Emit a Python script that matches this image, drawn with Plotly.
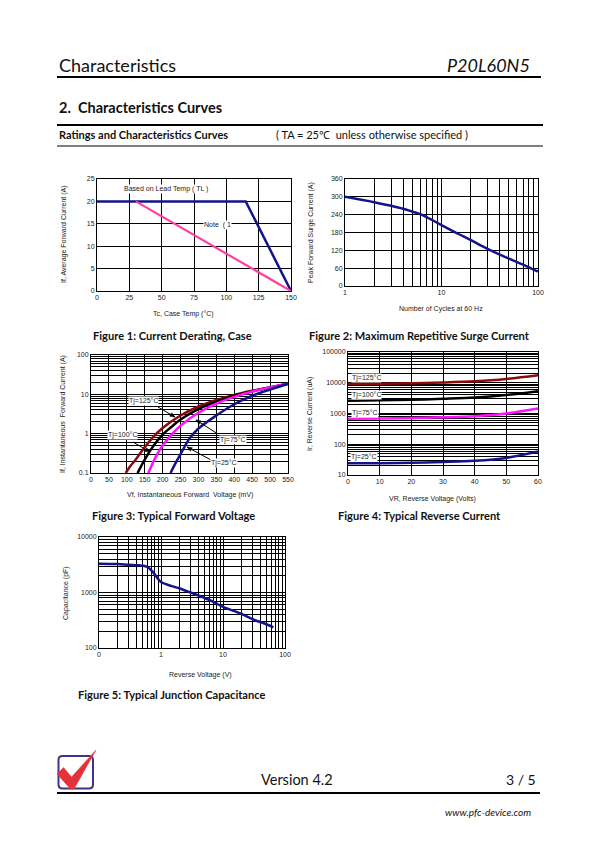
import math
import plotly.graph_objects as go

# The page is drawn with an 8 px body margin, so the figure is made 8 px smaller
# and every page coordinate is shifted by that margin.
PAGE_W, PAGE_H = 595, 842
OFF = 8
W, H = PAGE_W - OFF, PAGE_H - OFF

# ---------------- data ----------------
# Figure 1: current derating
f1_lead_temp = [0, 115, 150]
f1_lead_current = [20, 20, 0]
f1_note_temp = [30, 150]
f1_note_current = [20, 0]
f1_x_ticks = [0, 25, 50, 75, 100, 125, 150]
f1_y_ticks = [0, 5, 10, 15, 20, 25]

# Figure 2: surge current
f2_cycles = [1, 2, 3, 4, 5, 6, 7, 8, 10, 15, 20, 30, 50, 70, 100]
f2_surge = [300, 282, 270, 260, 250, 242, 232, 222, 205, 175, 155, 125, 92, 72, 48]
f2_y_ticks = [0, 60, 120, 180, 240, 300, 360]
f2_x_ticks = [1, 10, 100]
f2_x_labels = ["1", "10", "100"]

# Figure 3: forward voltage (mV) vs current (A)
f3_v_125 = [97, 110, 125, 150, 175, 200, 250, 300, 350, 400, 450, 500, 550]
f3_i_125 = [0.1, 0.15, 0.22, 0.45, 0.85, 1.4, 2.9, 4.9, 7.2, 9.7, 12.3, 15, 18.5]
f3_v_100 = [130, 140, 150, 175, 200, 225, 250, 300, 350, 400, 450, 500, 550]
f3_i_100 = [0.1, 0.15, 0.22, 0.5, 0.95, 1.5, 2.3, 4.2, 6.5, 9.2, 12, 15, 18.5]
f3_v_75 = [160, 170, 180, 200, 225, 250, 300, 350, 400, 450, 500, 550]
f3_i_75 = [0.1, 0.16, 0.25, 0.5, 0.95, 1.6, 3.4, 5.8, 8.6, 11.8, 15, 18.5]
f3_v_25 = [222, 235, 250, 275, 300, 350, 400, 450, 500, 550]
f3_i_25 = [0.1, 0.17, 0.3, 0.75, 1.35, 2.9, 5.6, 9.2, 13.3, 18.5]
f3_x_ticks = [0, 50, 100, 150, 200, 250, 300, 350, 400, 450, 500, 550]
f3_y_ticks = [0.1, 1, 10, 100]
f3_y_labels = ["0.1", "1", "10", "100"]

# Figure 4: reverse current (uA) vs reverse voltage
f4_vr = [0, 10, 20, 30, 40, 50, 60]
f4_ir_125 = [9200, 9300, 9600, 10200, 11200, 13300, 17500]
f4_ir_100 = [2600, 2700, 2800, 3000, 3300, 4000, 5300]
f4_ir_75 = [680, 690, 710, 750, 820, 1000, 1450]
f4_ir_25 = [24, 24, 25, 26.5, 29, 36, 58]
f4_x_ticks = [0, 10, 20, 30, 40, 50, 60]
f4_y_ticks = [10, 100, 1000, 10000, 100000]
f4_y_labels = ["10", "100", "1000", "10000", "100000"]

# Figure 5: junction capacitance
f5_vr = [0.1, 0.2, 0.3, 0.4, 0.5, 0.6, 0.7, 0.8, 0.9, 1, 1.5, 2, 3, 5, 7, 10, 20, 30, 50, 65]
f5_cap = [3300, 3250, 3150, 3100, 3050, 2900, 2500, 2100, 1750, 1550, 1300, 1180, 1000, 800,
          680, 550, 410, 330, 268, 235]
f5_x_ticks = [0.1, 1, 10, 100]
f5_x_labels = ["0", "1", "10", "100"]
f5_y_ticks = [100, 1000, 10000]
f5_y_labels = ["100", "1000", "10000"]


# ---------------- helpers ----------------
def px(x):
    return (x - OFF) / W


def py(y):
    return 1 - (y - OFF) / H


def minor_log(lo_exp, hi_exp):
    vals = []
    for e in range(lo_exp, hi_exp):
        for m in range(2, 10):
            vals.append(round(m * 10 ** e, 6))
    return vals


TICKFONT = dict(family="Liberation Sans, Arial", size=7, color="#222")


def axis(domain, anchor, minor_vals=None, **kw):
    d = dict(domain=domain, anchor=anchor, showgrid=True, gridcolor="black", gridwidth=1,
             showline=True, linecolor="black", linewidth=1, mirror=True, zeroline=False,
             ticks="", tickfont=TICKFONT, fixedrange=True, automargin=False)
    if minor_vals:
        d["minor"] = dict(tickmode="array", tickvals=minor_vals, showgrid=True,
                          gridcolor="black", gridwidth=1, ticks="")
    d.update(kw)
    return d


fig = go.Figure()

NAVY = "#14148a"
MAROON = "#8b0a0a"
MAGENTA = "#ff10ff"
PINK = "#ff3fa0"

# Figure 1
fig.add_trace(go.Scatter(x=f1_lead_temp, y=f1_lead_current, mode="lines",
                         line=dict(color=NAVY, width=2.5), xaxis="x", yaxis="y"))
fig.add_trace(go.Scatter(x=f1_note_temp, y=f1_note_current, mode="lines",
                         line=dict(color=PINK, width=2.2), xaxis="x", yaxis="y"))
# Figure 2
fig.add_trace(go.Scatter(x=f2_cycles, y=f2_surge, mode="lines", line_shape="spline",
                         line=dict(color=NAVY, width=2.5), xaxis="x2", yaxis="y2"))
# Figure 3
for xs, ys, c in [(f3_v_125, f3_i_125, MAROON), (f3_v_100, f3_i_100, "black"),
                  (f3_v_75, f3_i_75, MAGENTA), (f3_v_25, f3_i_25, NAVY)]:
    fig.add_trace(go.Scatter(x=xs, y=ys, mode="lines", line_shape="spline",
                             line=dict(color=c, width=2.5), xaxis="x3", yaxis="y3"))
# Figure 4
for ys, c in [(f4_ir_125, MAROON), (f4_ir_100, "black"), (f4_ir_75, MAGENTA), (f4_ir_25, NAVY)]:
    fig.add_trace(go.Scatter(x=f4_vr, y=ys, mode="lines", line_shape="spline",
                             line=dict(color=c, width=2.5), xaxis="x4", yaxis="y4"))
# Figure 5
fig.add_trace(go.Scatter(x=f5_vr, y=f5_cap, mode="lines", line_shape="spline",
                         line=dict(color=NAVY, width=2.5), xaxis="x5", yaxis="y5"))

layout_axes = dict(
    xaxis=axis([px(97), px(291)], "y", range=[0, 150], tickvals=f1_x_ticks),
    yaxis=axis([py(291), py(179)], "x", range=[0, 25], tickvals=f1_y_ticks),
    xaxis2=axis([px(345), px(538)], "y2", minor_log(0, 2), type="log", range=[0, 2],
                tickvals=f2_x_ticks, ticktext=f2_x_labels),
    yaxis2=axis([py(286), py(179)], "x2", range=[0, 360], tickvals=f2_y_ticks),
    xaxis3=axis([px(91), px(288)], "y3", range=[0, 550], tickvals=f3_x_ticks),
    yaxis3=axis([py(473), py(355)], "x3", minor_log(-1, 2), type="log", range=[-1, 2],
                tickvals=f3_y_ticks, ticktext=f3_y_labels),
    xaxis4=axis([px(348), px(538)], "y4", range=[0, 60], tickvals=f4_x_ticks),
    yaxis4=axis([py(475), py(352)], "x4", minor_log(1, 5), type="log", range=[1, 5],
                tickvals=f4_y_ticks, ticktext=f4_y_labels),
    xaxis5=axis([px(99), px(285)], "y5", minor_log(-1, 2), type="log", range=[-1, 2],
                tickvals=f5_x_ticks, ticktext=f5_x_labels),
    yaxis5=axis([py(648), py(537)], "x5", minor_log(2, 4), type="log", range=[2, 4],
                tickvals=f5_y_ticks, ticktext=f5_y_labels),
)

ann = []


def text(x, y, s, size=7, xanchor="center", family="Liberation Sans, Arial", color="#222",
         angle=0, bg=None, yanchor="middle"):
    a = dict(x=px(x), y=py(y), xref="paper", yref="paper", text=s, showarrow=False,
             xanchor=xanchor, yanchor=yanchor, textangle=angle,
             font=dict(family=family, size=size, color=color))
    if bg:
        a.update(bgcolor=bg, borderpad=0)
    ann.append(a)


PAGE = "Lato, Carlito, Calibri, sans-serif"
# Page header
text(57, 65, "Characteristics", size=18, xanchor="left", family=PAGE, color="#111")
text(532, 65, "<i>P20L60N5</i>", size=18, xanchor="right", family=PAGE, color="#111")
text(57, 107, "<b>2.  Characteristics Curves</b>", size=14.5, xanchor="left", family=PAGE, color="#111")
text(57, 135, "<b>Ratings and Characteristics Curves</b>", size=11, xanchor="left", family=PAGE, color="#111")
text(274, 135, "( TA = 25℃  unless otherwise specified )", size=11, xanchor="left", family=PAGE, color="#111")

# Captions
CAP = 11.1
text(172, 335, "<b>Figure 1: Current Derating, Case</b>", size=CAP, family=PAGE, color="#111")
text(419, 335, "<b>Figure 2: Maximum Repetitive Surge Current</b>", size=CAP, family=PAGE, color="#111")
text(173, 515, "<b>Figure 3: Typical Forward Voltage</b>", size=CAP, family=PAGE, color="#111")
text(419, 515, "<b>Figure 4: Typical Reverse Current</b>", size=CAP, family=PAGE, color="#111")
text(172, 694, "<b>Figure 5: Typical Junction Capacitance</b>", size=CAP, family=PAGE, color="#111")

# Footer
text(297, 779, "Version 4.2", size=14.5, family=PAGE, color="#111")
text(538, 779, "3 / 5", size=14, xanchor="right", family=PAGE, color="#111")
text(533, 812, "<i>www.pfc-device.com</i>", size=10, xanchor="right", family=PAGE, color="#111")

# Axis titles
text(183, 314, "Tc, Case Temp (°C)", size=7)
text(64, 234, "If, Average Forward Current (A)", size=7, angle=-90)
text(441, 309, "Number of Cycles at 60 Hz", size=7)
text(311, 233, "Peak Forward Surge Current (A)", size=7, angle=-90)
text(190, 495, "Vf, Instantaneous Forward  Voltage (mV)", size=7)
text(63, 414, "If, Instantaneous  Forward Current (A)", size=7, angle=-90)
text(432, 499, "VR, Reverse Voltage (Volts)", size=7)
text(310, 414, "Ir, Reverse Current (uA)", size=7, angle=-90)
text(200, 675, "Reverse Voltage (V)", size=7)
text(66, 593, "Capacitance (pF)", size=7, angle=-90)

# In-chart labels
text(166, 189, "Based on Lead Temp ( TL )", size=7, bg="white")
text(217, 225, "Note  ( 1", size=7, bg="white")
text(366, 378, "Tj=125°C", size=7, bg="white")
text(366, 395, "Tj=100°C", size=7, bg="white")
text(365, 413, "Tj=75°C", size=7, bg="white")
text(364, 457, "Tj=25°C", size=7, bg="white")

shapes = []

# Fig 3 labels with arrows (drawn as line + small triangle head)
for (lx, ly, tx, ty, hx, hy, s) in [
        (143, 401, 158, 407, 175, 417, "Tj=125°C"),
        (122, 435, 133, 442, 150, 452, "Tj=100°C"),
        (233, 440, 218, 434, 196, 420, "Tj=75°C"),
        (224, 463, 211, 460, 187, 447, "Tj=25°C")]:
    text(lx, ly, s, size=7, bg="white")
    shapes.append(dict(type="line", xref="paper", yref="paper", x0=px(tx), y0=py(ty),
                       x1=px(hx), y1=py(hy), line=dict(color="black", width=1)))
    dx, dy = hx - tx, hy - ty
    L = math.hypot(dx, dy)
    ux, uy = dx / L, dy / L
    nx, ny = -uy, ux
    pts = [(hx, hy), (hx - 5 * ux + 2 * nx, hy - 5 * uy + 2 * ny),
           (hx - 5 * ux - 2 * nx, hy - 5 * uy - 2 * ny)]
    shapes.append(dict(type="path", xref="paper", yref="paper",
                       path="M " + " L ".join(f"{px(a):.5f},{py(b):.5f}" for a, b in pts) + " Z",
                       fillcolor="black", line=dict(color="black", width=0.5)))


def hline(y, x0, x1, w):
    shapes.append(dict(type="line", xref="paper", yref="paper", x0=px(x0), x1=px(x1),
                       y0=py(y), y1=py(y), line=dict(color="black", width=w)))


hline(77, 57, 541, 2.2)
hline(125, 57, 543, 2)
hline(146, 57, 543, 1)
hline(793, 57, 540, 2.2)


def path(points, close=True):
    s = "M " + " L ".join(f"{px(x):.5f},{py(y):.5f}" for x, y in points)
    return s + (" Z" if close else "")


# Logo: rounded square outline with a red check mark
r = 4
x0, x1, y0, y1 = 58.5, 93, 756, 788.5
logo_outline = (f"M {px(x0 + r):.5f},{py(y0):.5f} L {px(x1 - r):.5f},{py(y0):.5f} "
                f"Q {px(x1):.5f},{py(y0):.5f} {px(x1):.5f},{py(y0 + r):.5f} "
                f"L {px(x1):.5f},{py(y1 - r):.5f} Q {px(x1):.5f},{py(y1):.5f} {px(x1 - r):.5f},{py(y1):.5f} "
                f"L {px(x0 + r):.5f},{py(y1):.5f} Q {px(x0):.5f},{py(y1):.5f} {px(x0):.5f},{py(y1 - r):.5f} "
                f"L {px(x0):.5f},{py(y0 + r):.5f} Q {px(x0):.5f},{py(y0):.5f} {px(x0 + r):.5f},{py(y0):.5f} Z")
shapes.append(dict(type="path", xref="paper", yref="paper", path=logo_outline,
                   line=dict(color="#3a3590", width=2), fillcolor="rgba(0,0,0,0)"))
shapes.append(dict(type="path", xref="paper", yref="paper",
                   path=path([(57, 774), (63.5, 767.5), (71.5, 777), (96, 750), (74, 789), (70.5, 789)]),
                   line=dict(color="#e53238", width=0.5), fillcolor="#e53238"))

fig.update_layout(
    width=W, height=H, margin=dict(l=0, r=0, t=0, b=0),
    paper_bgcolor="white", plot_bgcolor="white", showlegend=False,
    annotations=ann, shapes=shapes, **layout_axes,
)

fig.write_html("out.html", config={"displayModeBar": False})
